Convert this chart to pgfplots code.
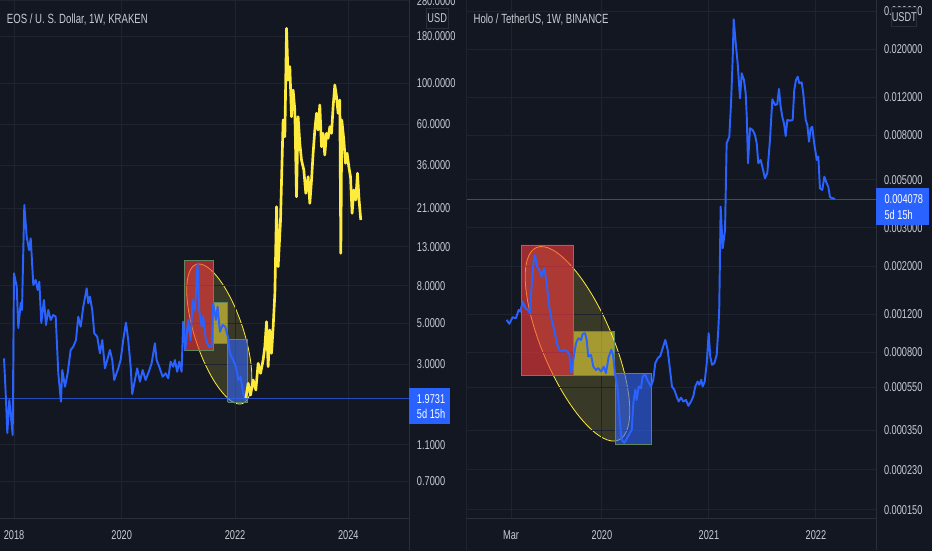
\documentclass[border=0pt]{standalone}
\usepackage{pgfplots}
\pgfplotsset{compat=1.18}
\usepackage{fontspec}
\setmainfont{Liberation Sans}[FakeStretch=0.72]
\definecolor{bg}{RGB}{19,23,34}
\definecolor{tvgrid}{RGB}{31,35,47}
\definecolor{tvborder}{RGB}{42,46,57}
\definecolor{tvtext}{RGB}{200,203,210}
\definecolor{tvblue}{RGB}{41,98,255}
\definecolor{tvyellow}{RGB}{255,235,59}
\definecolor{rectred}{RGB}{250,58,60}
\definecolor{rectblue}{RGB}{50,100,250}
\definecolor{rectedge}{RGB}{95,135,95}
\newcommand\tickfont{\fontsize{9.6}{11}\selectfont}
\newcommand\titlefont{\fontsize{10}{12}\selectfont}
\pgfdeclarelayer{back}
\pgfdeclarelayer{ell}
\pgfsetlayers{back,ell,main}
\begin{document}
\begin{tikzpicture}
\begin{pgfonlayer}{back}
\begin{scope}[x=0.75pt,y=-0.75pt]
\fill[bg] (-5,-5) rectangle (937,555);
\end{scope}
\end{pgfonlayer}
% ---------------- left panel: EOS ----------------
\begin{axis}[ymode=log, scale only axis, anchor=north west, height=388.5pt,
  at={(0pt,0pt)}, width=306.75pt,
  axis line style={draw=none}, major tick length=0pt, tick style={draw=none},
  grid=major, major grid style={draw=tvgrid, line width=0.75pt},
  yticklabel pos=right,
  yticklabel style={anchor=west, inner sep=0pt, xshift=5.8pt, font=\tickfont, text=tvtext},
  xticklabel style={anchor=north, inner sep=0pt, yshift=-9pt, font=\tickfont, text=tvtext},
  clip=true,
  xmin=2017.852, xmax=2025.070, ymin=0.4412, ymax=282.1,
  xtick={2018.1,2020,2022,2024}, xticklabels={2018,2020,2022,2024},
  ytick={0.7,1.1,3,5,8,13,21,36,60,100,180,280},
  yticklabels={0.7000,1.1000,3.0000,5.0000,8.0000,13.0000,21.0000,36.0000,60.0000,100.0000,180.0000,280.0000}]
\coordinate (E1) at (axis cs:2021.722,4.378);
\addplot[tvblue, line width=0.6pt, opacity=0.7] coordinates {(2017.852,1.9731) (2025.070,1.9731)};
\addplot[fill=rectred, fill opacity=0.6, draw=rectedge, line width=0.6pt] coordinates {(2021.103,3.555) (2021.614,3.555) (2021.614,10.92) (2021.103,10.92) (2021.103,3.555)};
\addplot[fill=tvyellow, fill opacity=0.55, draw=rectedge, line width=0.6pt] coordinates {(2021.614,3.899) (2021.868,3.899) (2021.868,6.501) (2021.614,6.501) (2021.614,3.899)};
\addplot[fill=rectblue, fill opacity=0.6, draw=rectedge, line width=0.6pt] coordinates {(2021.868,1.868) (2022.214,1.868) (2022.214,4.098) (2021.868,4.098) (2021.868,1.868)};
\addplot[tvblue, line width=1.45pt, line join=round] coordinates {
(2017.923,3.234) (2017.958,1.922) (2017.981,1.274) (2018.016,1.922) (2018.076,1.242) (2018.099,9.334) (2018.147,7.898) (2018.175,4.719) (2018.218,6.445) (2018.240,5.906) (2018.281,21.88) (2018.323,14.73) (2018.364,12.48) (2018.394,14.44) (2018.440,8.067) (2018.482,8.587) (2018.517,7.579) (2018.546,8.406) (2018.581,5.022) (2018.628,6.690) (2018.664,4.898) (2018.704,5.906) (2018.747,5.214) (2018.792,5.549) (2018.835,5.432) (2018.881,2.682) (2018.928,1.882) (2018.951,2.795) (2018.999,2.269) (2019.046,2.682) (2019.099,3.587) (2019.145,3.737) (2019.193,4.063) (2019.233,5.432) (2019.276,4.796) (2019.322,6.155) (2019.382,7.742) (2019.410,6.421) (2019.440,6.972) (2019.480,5.906) (2019.516,4.417) (2019.568,4.233) (2019.616,3.442) (2019.657,4.063) (2019.704,2.854) (2019.745,3.166) (2019.792,3.587) (2019.833,3.166) (2019.868,2.467) (2019.939,2.854) (2019.981,3.166) (2020.027,4.063) (2020.075,5.041) (2020.115,4.063) (2020.158,2.912) (2020.186,2.072) (2020.233,2.467) (2020.274,2.854) (2020.322,2.415) (2020.369,2.795) (2020.422,2.467) (2020.468,2.682) (2020.528,3.038) (2020.586,3.899) (2020.616,3.166) (2020.662,2.912) (2020.722,2.570) (2020.775,2.682) (2020.821,2.520) (2020.863,3.099) (2020.909,2.912) (2020.939,3.166) (2020.979,2.736) (2021.015,3.099) (2021.057,2.736) (2021.085,5.104) (2021.121,3.587) (2021.173,5.214) (2021.216,4.063) (2021.251,6.690) (2021.292,5.906) (2021.339,10.57) (2021.367,5.906) (2021.410,4.796) (2021.438,5.432) (2021.486,4.063) (2021.538,3.737) (2021.586,3.737) (2021.614,6.421) (2021.662,5.214) (2021.692,6.155) (2021.733,4.506) (2021.780,4.898) (2021.826,4.796) (2021.874,4.233) (2021.909,3.442) (2021.967,3.166) (2022.015,2.912) (2022.055,2.467) (2022.098,2.570) (2022.143,2.090) (2022.191,1.922)};
\addplot[tvyellow, line width=2pt, line join=round] coordinates {
(2022.191,1.971) (2022.232,2.367) (2022.274,2.046) (2022.320,2.467) (2022.367,2.178) (2022.408,3.038) (2022.450,2.682) (2022.496,3.166) (2022.526,3.737) (2022.556,5.104) (2022.584,2.912) (2022.614,4.603) (2022.644,3.442) (2022.673,4.796) (2022.703,7.274) (2022.733,21.42) (2022.761,10.14) (2022.803,18.15) (2022.821,29.89) (2022.849,63.18) (2022.879,51.29) (2022.909,198.2) (2022.937,104.0) (2022.967,122.8) (2022.997,65.8) (2023.025,91.8) (2023.055,71.55) (2023.085,24.27) (2023.113,65.8) (2023.143,47.24) (2023.173,38.36) (2023.214,33.86) (2023.249,25.32) (2023.290,31.14) (2023.320,22.35) (2023.350,29.89) (2023.378,41.70) (2023.408,55.76) (2023.438,68.67) (2023.466,55.76) (2023.496,76.17) (2023.526,45.28) (2023.554,53.51) (2023.584,40.82) (2023.614,53.51) (2023.643,50.28) (2023.673,58.10) (2023.703,53.51) (2023.731,74.57) (2023.761,97.73) (2023.791,84.47) (2023.819,68.67) (2023.849,81.06) (2023.867,11.98) (2023.884,63.18) (2023.920,49.22) (2023.949,36.81) (2023.978,41.70) (2024.008,35.28) (2024.038,31.14) (2024.066,19.73) (2024.096,26.38) (2024.131,23.29) (2024.161,32.49) (2024.189,23.29) (2024.219,18.15)};
\end{axis}
% ---------------- right panel: Holo ----------------
\begin{axis}[ymode=log, scale only axis, anchor=north west, height=388.5pt,
  at={(349.5pt,0pt)}, width=307.5pt,
  axis line style={draw=none}, major tick length=0pt, tick style={draw=none},
  grid=major, major grid style={draw=tvgrid, line width=0.75pt},
  yticklabel pos=right,
  yticklabel style={anchor=west, inner sep=0pt, xshift=5.8pt, font=\tickfont, text=tvtext},
  xticklabel style={anchor=north, inner sep=0pt, yshift=-9pt, font=\tickfont, text=tvtext},
  clip=true,
  xmin=2018.729, xmax=2022.561, ymin=0.0001375, ymax=0.03377,
  xtick={2019.15,2020,2021,2022}, xticklabels={Mar,2020,2021,2022},
  ytick={0.00015,0.00023,0.00035,0.00055,0.0008,0.0012,0.002,0.003,0.005,0.008,0.012,0.02,0.03},
  yticklabels={0.000150,0.000230,0.000350,0.000550,0.000800,0.001200,0.002000,0.003000,0.005000,0.008000,0.012000,0.020000,0.030000}]
\coordinate (E2) at (axis cs:2019.771,0.000875);
\addplot[tvblue, line width=0.6pt, opacity=0.7] coordinates {(2018.729,0.004078) (2022.561,0.004078)};
\addplot[fill=rectred, fill opacity=0.6, draw=rectedge, line width=0.6pt] coordinates {(2019.243,0.000627) (2019.732,0.000627) (2019.732,0.002503) (2019.243,0.002503) (2019.243,0.000627)};
\addplot[fill=tvyellow, fill opacity=0.55, draw=rectedge, line width=0.6pt] coordinates {(2019.732,0.000627) (2020.119,0.000627) (2020.119,0.000997) (2019.732,0.000997) (2019.732,0.000627)};
\addplot[fill=rectblue, fill opacity=0.6, draw=rectedge, line width=0.6pt] coordinates {(2020.124,0.000302) (2020.464,0.000302) (2020.464,0.000641) (2020.124,0.000641) (2020.124,0.000302)};
\addplot[tvblue, line width=1.45pt, line join=round] coordinates {
(2019.109,0.001129) (2019.134,0.001082) (2019.165,0.001161) (2019.196,0.001149) (2019.221,0.001255) (2019.236,0.001232) (2019.259,0.001370) (2019.283,0.001278) (2019.306,0.001255) (2019.327,0.001212) (2019.343,0.001637) (2019.362,0.002134) (2019.374,0.002251) (2019.393,0.001988) (2019.414,0.001919) (2019.433,0.001788) (2019.461,0.001954) (2019.483,0.001666) (2019.507,0.001300) (2019.530,0.001129) (2019.554,0.001015) (2019.577,0.000881) (2019.601,0.000821) (2019.623,0.000806) (2019.648,0.000821) (2019.673,0.000806) (2019.694,0.000786) (2019.713,0.000641) (2019.732,0.000738) (2019.757,0.000881) (2019.779,0.000929) (2019.804,0.000912) (2019.820,0.000973) (2019.841,0.000980) (2019.857,0.000912) (2019.872,0.000764) (2019.897,0.000778) (2019.919,0.000687) (2019.944,0.000663) (2019.965,0.000676) (2019.991,0.000652) (2020.016,0.000687) (2020.037,0.000641) (2020.063,0.000764) (2020.087,0.000821) (2020.103,0.000778) (2020.121,0.000641) (2020.147,0.000537) (2020.168,0.000377) (2020.184,0.000316) (2020.208,0.000305) (2020.234,0.000321) (2020.255,0.000336) (2020.278,0.000351) (2020.293,0.000466) (2020.311,0.000537) (2020.324,0.000482) (2020.343,0.000556) (2020.364,0.000546) (2020.380,0.000618) (2020.402,0.000634) (2020.427,0.000592) (2020.458,0.000556) (2020.479,0.000597) (2020.498,0.000712) (2020.521,0.000751) (2020.545,0.000770) (2020.567,0.000835) (2020.592,0.000912) (2020.614,0.000821) (2020.636,0.000663) (2020.654,0.000556) (2020.676,0.000537) (2020.698,0.000500) (2020.717,0.000474) (2020.738,0.000494) (2020.760,0.000474) (2020.785,0.000482) (2020.807,0.000453) (2020.832,0.000474) (2020.853,0.000500) (2020.872,0.000556) (2020.894,0.000586) (2020.909,0.000566) (2020.928,0.000597) (2020.941,0.000556) (2020.960,0.000586) (2020.979,0.000712) (2020.997,0.000980) (2021.012,0.000764) (2021.028,0.000700) (2021.050,0.000712) (2021.072,0.000778) (2021.087,0.001015) (2021.096,0.001278) (2021.109,0.003759) (2021.128,0.002416) (2021.150,0.002935) (2021.165,0.007370) (2021.190,0.007906) (2021.206,0.011272) (2021.221,0.017854) (2021.231,0.027510) (2021.250,0.021320) (2021.268,0.017241) (2021.290,0.011887) (2021.306,0.015503) (2021.327,0.014439) (2021.343,0.012535) (2021.353,0.009777) (2021.365,0.005960) (2021.383,0.008644) (2021.408,0.008489) (2021.430,0.008050) (2021.446,0.007370) (2021.461,0.005960) (2021.483,0.006173) (2021.502,0.005652) (2021.523,0.005083) (2021.545,0.005359) (2021.570,0.007634) (2021.592,0.011762) (2021.617,0.011071) (2021.638,0.011153) (2021.654,0.013122) (2021.670,0.010873) (2021.685,0.009777) (2021.701,0.009115) (2021.717,0.007965) (2021.732,0.009440) (2021.757,0.009371) (2021.782,0.009440) (2021.797,0.012983) (2021.813,0.014439) (2021.829,0.014953) (2021.844,0.013939) (2021.866,0.014087) (2021.881,0.012535) (2021.904,0.009440) (2021.919,0.008952) (2021.935,0.007497) (2021.950,0.008644) (2021.965,0.008792) (2021.981,0.007497) (2022.007,0.006173) (2022.022,0.006393) (2022.037,0.004571) (2022.059,0.004488) (2022.078,0.005169) (2022.100,0.004820) (2022.115,0.004649) (2022.131,0.004154) (2022.156,0.004110) (2022.178,0.004078)};
\end{axis}
% ---------------- ellipses (layer below plots) ----------------
\begin{pgfonlayer}{ell}
\fill[tvyellow, fill opacity=0.16, rotate around={-71.7:(E1)}] (E1) ellipse [x radius=55pt, y radius=18.2pt];
\draw[tvyellow, line width=0.6pt, rotate around={-71.7:(E1)}] (E1) ellipse [x radius=55pt, y radius=18.2pt];
\fill[tvyellow, fill opacity=0.16, rotate around={-66.9:(E2)}] (E2) ellipse [x radius=78.5pt, y radius=26.4pt];
\draw[tvyellow, line width=0.6pt, rotate around={-66.9:(E2)}] (E2) ellipse [x radius=78.5pt, y radius=26.4pt];
\end{pgfonlayer}
% ---------------- frame, labels, boxes ----------------
\begin{scope}[x=0.75pt,y=-0.75pt]
\draw[tvborder, line width=0.75pt] (409,0) -- (409,550);
\draw[tvborder, line width=0.75pt] (0,518) -- (409,518);
\draw[tvgrid, line width=0.75pt] (466,0) -- (466,550);
\draw[tvborder, line width=0.75pt] (876,0) -- (876,550);
\draw[tvborder, line width=0.75pt] (466,518) -- (876,518);
\node[anchor=base west, inner sep=0pt, text=tvtext, font=\titlefont] at (6.7,23.5) {EOS / U. S. Dollar, 1W, KRAKEN};
\node[anchor=base west, inner sep=0pt, text=tvtext, font=\titlefont] at (473.3,23.5) {Holo / TetherUS, 1W, BINANCE};
\node[draw=tvborder, fill=bg, minimum width=16.5pt, minimum height=15pt, inner sep=0pt, text=tvtext, font=\tickfont, line width=0.75pt] at (437.2,18.3) {USD};
\node[draw=tvborder, fill=bg, minimum width=18.5pt, minimum height=14pt, inner sep=0pt, text=tvtext, font=\tickfont, line width=0.75pt] at (904.3,17.3) {USDT};
\fill[tvblue] (409.3,388.3) rectangle (450,424.3);
\node[anchor=west, inner sep=0pt, text=white, font=\tickfont] at (416.7,399) {1.9731};
\node[anchor=west, inner sep=0pt, text=white, font=\tickfont] at (416.7,414.3) {5d 15h};
\fill[tvblue] (876,188.3) rectangle (928.7,225);
\node[anchor=west, inner sep=0pt, text=white, font=\tickfont] at (884.3,199.3) {0.004078};
\node[anchor=west, inner sep=0pt, text=white, font=\tickfont] at (884.3,215) {5d 15h};
\pgfresetboundingbox
\path[use as bounding box] (0,0) rectangle (932,550);
\end{scope}
\end{tikzpicture}
\end{document}
